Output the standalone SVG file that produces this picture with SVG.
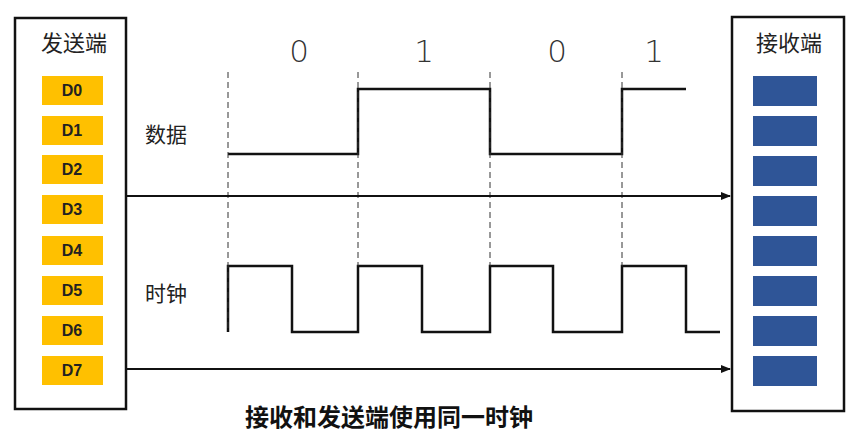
<svg xmlns="http://www.w3.org/2000/svg" width="866" height="432" viewBox="0 0 866 432">
<style>
.box{fill:#fff;stroke:#111;stroke-width:2.5}
.d{fill:#FFC000}
.dt{font-family:"Liberation Sans",Arial,sans-serif;font-size:16px;font-weight:bold;fill:#222;text-anchor:middle}
.r{fill:#2F5597}
.cj{font-family:"Noto Sans CJK SC",sans-serif;font-size:22px;fill:#222}
.dig{font-family:"DejaVu Sans","Noto Sans",sans-serif;font-size:31px;fill:#333;text-anchor:middle;font-weight:300}
.dash{stroke:#333;stroke-width:1;stroke-dasharray:6,4;fill:none}
.wave{stroke:#111;stroke-width:2.5;fill:none}
.arr{stroke:#111;stroke-width:2;fill:none;marker-end:url(#ah)}
</style>
<defs>
<marker id="ah" markerWidth="10" markerHeight="8" refX="9" refY="4" orient="auto" markerUnits="userSpaceOnUse">
<path d="M0,0 L10,4 L0,8 Z" fill="#111"/>
</marker>
</defs>
<rect width="866" height="432" fill="#fff"/>
<g id="sender">
<rect class="box" x="15" y="18" width="111" height="391"/>
<text class="cj" x="74" y="51" text-anchor="middle">发送端</text>
<rect class="d" x="42" y="76" width="61" height="29"/><text class="dt" x="72" y="96">D0</text>
<rect class="d" x="42" y="116" width="61" height="29"/><text class="dt" x="72" y="136">D1</text>
<rect class="d" x="42" y="155" width="61" height="29"/><text class="dt" x="72" y="175">D2</text>
<rect class="d" x="42" y="195" width="61" height="29"/><text class="dt" x="72" y="215">D3</text>
<rect class="d" x="42" y="236" width="61" height="29"/><text class="dt" x="72" y="256">D4</text>
<rect class="d" x="42" y="276" width="61" height="29"/><text class="dt" x="72" y="296">D5</text>
<rect class="d" x="42" y="316" width="61" height="29"/><text class="dt" x="72" y="336">D6</text>
<rect class="d" x="42" y="356" width="61" height="29"/><text class="dt" x="72" y="376">D7</text>
</g>
<g id="receiver">
<rect class="box" x="732" y="17" width="112" height="394"/>
<text class="cj" x="789" y="51" text-anchor="middle">接收端</text>
<rect class="r" x="753" y="76" width="64" height="30"/>
<rect class="r" x="753" y="116" width="64" height="30"/>
<rect class="r" x="753" y="156" width="64" height="30"/>
<rect class="r" x="753" y="196" width="64" height="30"/>
<rect class="r" x="753" y="236" width="64" height="30"/>
<rect class="r" x="753" y="276" width="64" height="30"/>
<rect class="r" x="753" y="316" width="64" height="30"/>
<rect class="r" x="753" y="356" width="64" height="30"/>
</g>
<g id="data-wave">
<text class="cj" x="145" y="142" style="font-size:21px">数据</text>
<text class="dig" x="299" y="62">0</text>
<text class="dig" x="424" y="62">1</text>
<text class="dig" x="557" y="62">0</text>
<text class="dig" x="654" y="62">1</text>
<path class="wave" d="M228,154 H358 V89 H490 V154 H622 V89 H686"/>
</g>
<g id="clock-wave">
<text class="cj" x="145" y="301" style="font-size:21px">时钟</text>
<path class="wave" d="M228,332 V266 H292 V332 H358 V266 H422 V332 H490 V266 H553 V332 H622 V266 H686 V332 H720"/>
</g>
<g id="connectors">
<line class="dash" x1="228" y1="72" x2="228" y2="332"/>
<line class="dash" x1="358" y1="72" x2="358" y2="266"/>
<line class="dash" x1="490" y1="72" x2="490" y2="266"/>
<line class="dash" x1="622" y1="72" x2="622" y2="266"/>
<line class="arr" x1="126" y1="196" x2="730" y2="196"/>
<line class="arr" x1="126" y1="369" x2="730" y2="369"/>
</g>
<text x="389" y="426" text-anchor="middle" style="font-family:'Noto Sans CJK SC',sans-serif;font-size:24px;font-weight:bold;fill:#111">接收和发送端使用同一时钟</text>
</svg>
